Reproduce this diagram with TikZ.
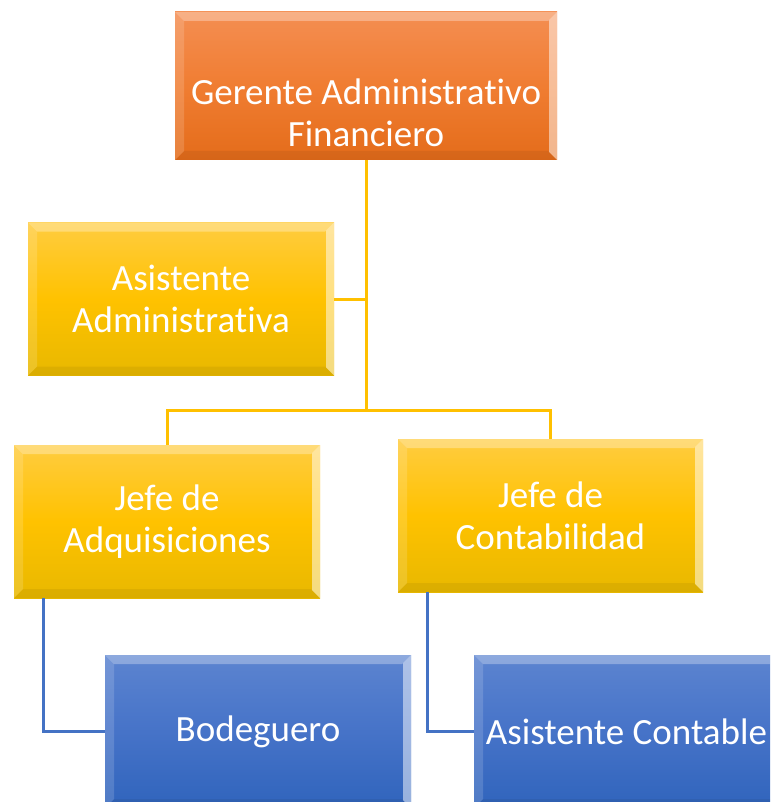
\documentclass[tikz,border=0pt]{standalone}
\usepackage{fontspec}
\newfontfamily\boxfont[RawFeature=-liga]{Carlito}
\definecolor{orTop}{RGB}{244,142,82}
\definecolor{orMid}{RGB}{240,125,50}
\definecolor{orBot}{RGB}{228,108,26}
\definecolor{gdTop}{RGB}{255,204,64}
\definecolor{gdMid}{RGB}{255,194,0}
\definecolor{gdBot}{RGB}{232,184,0}
\definecolor{blTop}{RGB}{92,132,208}
\definecolor{blMid}{RGB}{70,115,200}
\definecolor{blBot}{RGB}{48,100,188}
\definecolor{goldline}{RGB}{255,192,0}
\definecolor{blueline}{RGB}{68,114,196}
\newcommand\bevelpic{%
  \fill[white,opacity=.30] (path picture bounding box.north west) -- (path picture bounding box.north east)
    -- ([xshift=-9pt,yshift=-9pt]path picture bounding box.north east) -- ([xshift=9pt,yshift=-9pt]path picture bounding box.north west) -- cycle;
  \fill[white,opacity=.50] (path picture bounding box.north east) -- (path picture bounding box.south east)
    -- ([xshift=-8pt,yshift=8pt]path picture bounding box.south east) -- ([xshift=-8pt,yshift=-8pt]path picture bounding box.north east) -- cycle;
  \fill[white,opacity=.15] (path picture bounding box.north west) -- (path picture bounding box.south west)
    -- ([xshift=9pt,yshift=9pt]path picture bounding box.south west) -- ([xshift=9pt,yshift=-9pt]path picture bounding box.north west) -- cycle;
  \fill[black,opacity=.06] (path picture bounding box.south west) -- (path picture bounding box.south east)
    -- ([xshift=-9pt,yshift=9pt]path picture bounding box.south east) -- ([xshift=9pt,yshift=9pt]path picture bounding box.south west) -- cycle;
}
\tikzset{
  boxfontset/.style={text=white, align=center, font={\boxfont\fontsize{37}{42}\selectfont}},
  box/.style={rectangle, inner sep=0pt, minimum width=306pt, minimum height=153pt,
    boxfontset, path picture={\bevelpic}},
  orangebox/.style={box, top color=orTop, bottom color=orBot, middle color=orMid},
  goldbox/.style={box, top color=gdTop, bottom color=gdBot, middle color=gdMid},
  bluebox/.style={box, top color=blTop, bottom color=blBot, middle color=blMid},
  goldconn/.style={draw=goldline, line width=3pt},
  blueconn/.style={draw=blueline, line width=3pt},
}
\begin{document}
\begin{tikzpicture}[x=1pt,y=-1pt]
\clip (0,0) rectangle (770,802);
\fill[white] (0,0) rectangle (770,802);
\coordinate (j) at (366,410);
\node[orangebox, minimum width=382pt, minimum height=148pt] (top) at (366,86) {};
\node[boxfontset, inner sep=0pt] (toptext) at (366,113) {Gerente Administrativo\\Financiero};
\node[goldbox] (asis) at (181,299) {Asistente\\Administrativa};
\node[goldbox] (adq) at (167,521.5) {Jefe de\\Adquisiciones};
\node[goldbox, minimum width=305pt] (cont) at (550.5,515.5) {Jefe de\\Contabilidad};
\node[bluebox] (bod) at (258,731.5) {Bodeguero};
\node[bluebox, minimum width=305pt] (ac) at (626.5,731.5) {Asistente Contable};
\draw[goldconn] (top.south) -- (top.south |- j);
\draw[goldconn] (asis.east) -- (asis.east -| top.south);
\draw[goldconn] (adq.north) |- (j) -| (cont.north);
\draw[blueconn] ([xshift=30pt]adq.south west) |- (bod.west);
\draw[blueconn] ([xshift=30pt]cont.south west) |- (ac.west);
\end{tikzpicture}
\end{document}
